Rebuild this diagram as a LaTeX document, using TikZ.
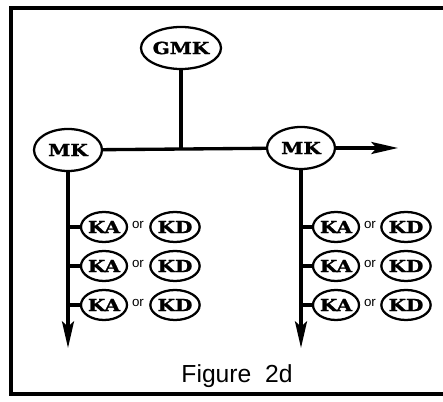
\documentclass[tikz,border=0pt]{standalone}
\usepackage{fontspec}
\usetikzlibrary{shapes.geometric,arrows.meta}
\newfontfamily\kinfont{DejaVu Serif Bold}[FakeStretch=1.2,FakeBold=1.5]
\newfontfamily\labelfont{Liberation Sans}

\tikzset{
  kin/.style={draw, ellipse, line width=1.7pt, inner sep=0pt,
    font=\kinfont\fontsize{12.5}{13}\selectfont},
  bigkin/.style={kin, minimum width=51pt, minimum height=31.5pt},
  kabox/.style={kin, minimum width=34.5pt, minimum height=22.5pt},
  kdbox/.style={kin, minimum width=37pt, minimum height=22.5pt},
  orword/.style={inner sep=0pt, font=\labelfont\fontsize{10}{12}\selectfont},
  branch/.style={line width=2.5pt},
  spine/.style={line width=2.5pt, -{Stealth[length=20pt,width=9pt,inset=4pt]}}
}

\begin{document}
\begin{tikzpicture}[x=0.75pt,y=0.75pt,yscale=-1,xscale=1]
    \useasboundingbox (0,0) rectangle (443,402);

    %Frame (open on the right)
    \draw [line width=2.3pt]  (443,8) -- (11,8) -- (11,394) -- (443,394) ;

    % Kin nodes
    \node [bigkin] (gmk) at (181,48) {GMK};
    \node [bigkin] (mkL) at (68,150) {MK};
    \node [bigkin] (mkR) at (301,148) {MK};

    %Straight Lines
    \draw [branch]  (mkL) -- (mkR) ;
    \draw [branch]  (gmk) -- (gmk |- mkR) ;
    \coordinate (outR) at (398,148);
    \draw [spine]  (mkR) -- (outR) ;

    % Descent lines
    \coordinate (endL) at (68,348);
    \coordinate (endR) at (301,348);
    \draw [spine]  (mkL.south) -- (endL) ;
    \draw [spine]  (mkR.south) -- (endR) ;

    % Left column
    \node [kabox] (kaL1) at (104,227) {KA};
    \node [orword] (orL1) at (138,225) {or};
    \node [kdbox] (kdL1) at (175,227) {KD};
    \node [kabox] (kaL2) at (104,266) {KA};
    \node [orword] (orL2) at (138,264) {or};
    \node [kdbox] (kdL2) at (175,266) {KD};
    \node [kabox] (kaL3) at (104,305) {KA};
    \node [orword] (orL3) at (138,303) {or};
    \node [kdbox] (kdL3) at (175,305) {KD};
    \draw [branch]  (kaL1.west) -- (kaL1.west -| endL) ;
    \draw [branch]  (kaL2.west) -- (kaL2.west -| endL) ;
    \draw [branch]  (kaL3.west) -- (kaL3.west -| endL) ;

    % Right column
    \node [kabox] (kaR1) at (336,227) {KA};
    \node [orword] (orR1) at (370,225) {or};
    \node [kdbox] (kdR1) at (406,227) {KD};
    \node [kabox] (kaR2) at (336,266) {KA};
    \node [orword] (orR2) at (370,264) {or};
    \node [kdbox] (kdR2) at (406,266) {KD};
    \node [kabox] (kaR3) at (336,305) {KA};
    \node [orword] (orR3) at (370,303) {or};
    \node [kdbox] (kdR3) at (406,305) {KD};
    \draw [branch]  (kaR1.west) -- (kaR1.west -| endR) ;
    \draw [branch]  (kaR2.west) -- (kaR2.west -| endR) ;
    \draw [branch]  (kaR3.west) -- (kaR3.west -| endR) ;

    % Text Node
    \node [font=\labelfont\fontsize{18.5}{20}\selectfont] (caption) at (237,376) {Figure\ \ 2d};

\end{tikzpicture}
\end{document}
